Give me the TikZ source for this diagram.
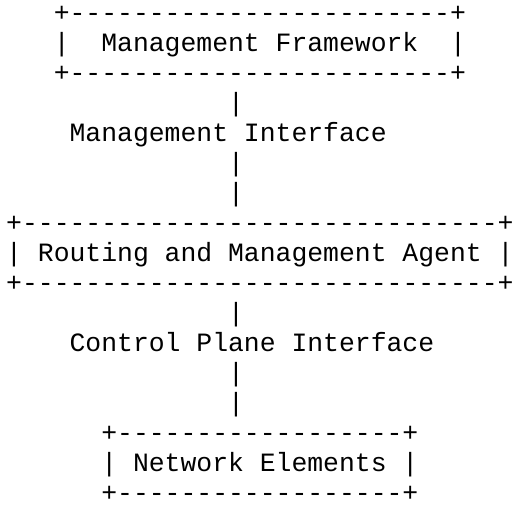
\documentclass[tikz,border=0pt]{standalone}
\usepackage{fontspec}
\setmonofont{Liberation Mono}
\usepackage{tikz}

\tikzset{ascii/.style={anchor=base west,inner sep=0pt,font=\ttfamily\fontsize{26.42pt}{30pt}\selectfont}}
\newcommand{\dashrow}[1]{+\foreach \i in {1,...,#1}{-}+}

\begin{document}
\begin{tikzpicture}[x=15.85pt,y=30pt]
\useasboundingbox (-6pt,21pt) rectangle (507pt,-488pt);
% management framework box
\node[ascii] (mftop) at (3,0) {\dashrow{24}};
\node[ascii] (mfleft) at (3,-1) {|};
\node[ascii] (mf) at (6,-1) {Management Framework};
\node[ascii] (mfright) at (28,-1) {|};
\node[ascii] (mfbot) at (3,-2) {\dashrow{24}};
% management interface
\node[ascii] (mibar1) at (14,-3) {|};
\node[ascii] (mi) at (4,-4) {Management Interface};
\node[ascii] (mibar2) at (14,-5) {|};
\node[ascii] (mibar3) at (14,-6) {|};
% routing and management agent box
\node[ascii] (ragtop) at (0,-7) {\dashrow{30}};
\node[ascii] (ragleft) at (0,-8) {|};
\node[ascii] (rag) at (2,-8) {Routing and Management Agent};
\node[ascii] (ragright) at (31,-8) {|};
\node[ascii] (ragbot) at (0,-9) {\dashrow{30}};
% control plane interface
\node[ascii] (cpbar1) at (14,-10) {|};
\node[ascii] (cp) at (4,-11) {Control Plane Interface};
\node[ascii] (cpbar2) at (14,-12) {|};
\node[ascii] (cpbar3) at (14,-13) {|};
% network elements box
\node[ascii] (netop) at (6,-14) {\dashrow{18}};
\node[ascii] (neleft) at (6,-15) {|};
\node[ascii] (ne) at (8,-15) {Network Elements};
\node[ascii] (neright) at (25,-15) {|};
\node[ascii] (nebot) at (6,-16) {\dashrow{18}};
\end{tikzpicture}
\end{document}
